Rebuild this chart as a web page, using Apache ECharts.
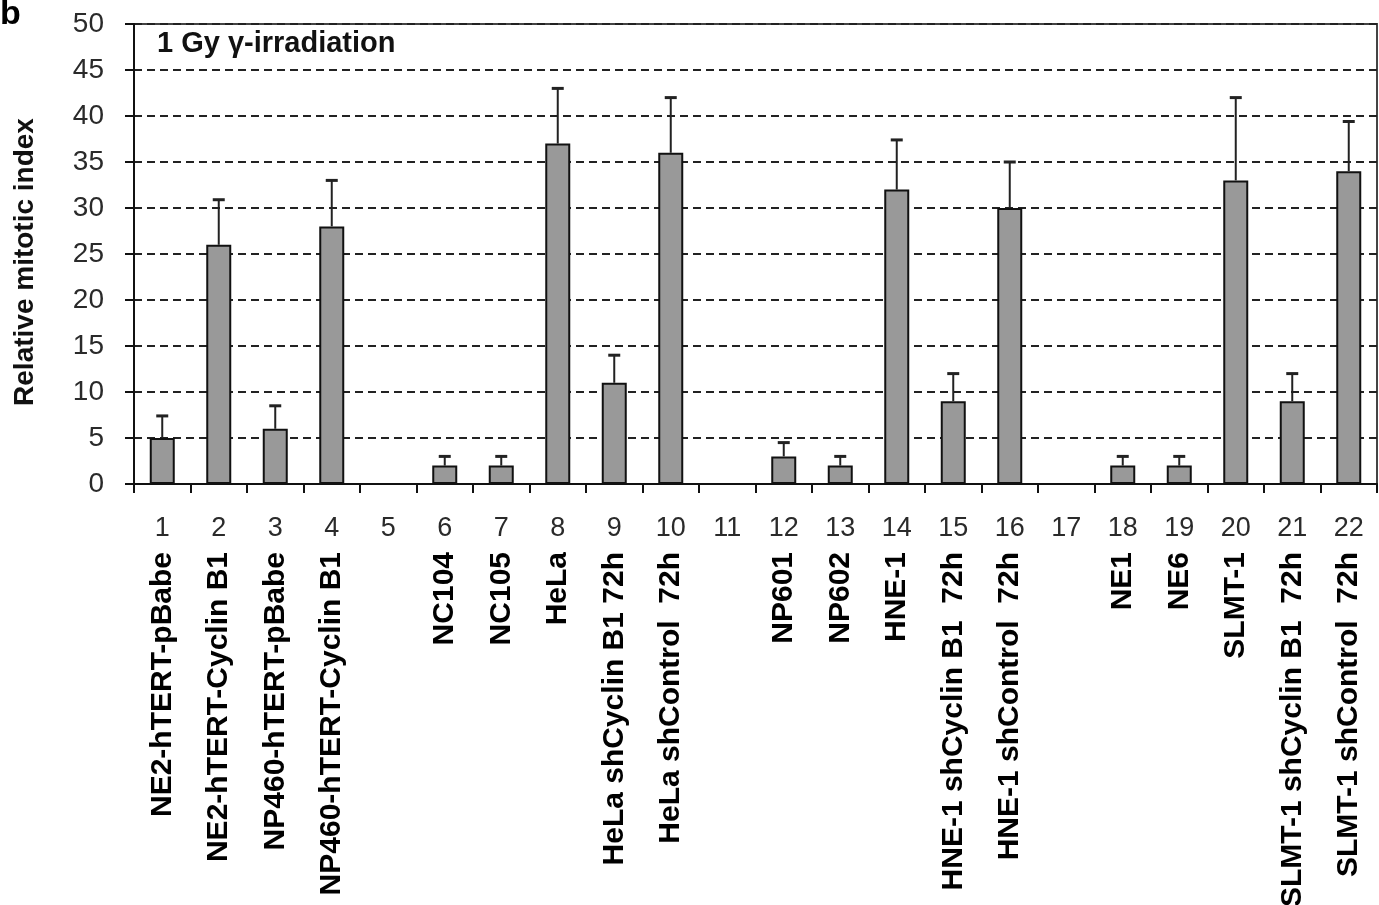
<!DOCTYPE html>
<html>
<head>
<meta charset="utf-8">
<script src="https://cdn.jsdelivr.net/npm/echarts@6/dist/echarts.min.js"></script>
<style>
html,body{margin:0;padding:0;background:#fff;}
#chart{width:1379px;height:905px;}
</style>
</head>
<body>
<div id="chart"></div>
<script>
const categoryNumbers = ['1','2','3','4','5','6','7','8','9','10','11','12','13','14','15','16','17','18','19','20','21','22'];
const cellLines = ['NE2-hTERT-pBabe','NE2-hTERT-Cyclin B1','NP460-hTERT-pBabe','NP460-hTERT-Cyclin B1','',
  'NC104','NC105','HeLa','HeLa shCyclin B1 72h','HeLa shControl  72h','',
  'NP601','NP602','HNE-1','HNE-1 shCyclin B1  72h','HNE-1 shControl  72h','',
  'NE1','NE6','SLMT-1','SLMT-1 shCyclin B1  72h','SLMT-1 shControl  72h'];
const meanValues = [5, 26, 6, 28, null, 2, 2, 37, 11, 36, null, 3, 2, 32, 9, 30, null, 2, 2, 33, 9, 34];
const errValues  = [2.4, 4.9, 2.5, 5, null, 1, 1, 6, 3, 6, null, 1.5, 1, 5.4, 3, 5, null, 1, 1, 9, 3, 5.4];
const yMin = 0, yMax = 50, yStep = 5;
const titleText = '1 Gy \u03b3-irradiation';
const yTitle = 'Relative mitotic index';
const panelLetter = 'b';

const FONT = '"Liberation Sans", Arial, sans-serif';
const chart = echarts.init(document.getElementById('chart'), null, {renderer: 'canvas'});

const errData = meanValues.map((v, i) => (v == null ? [i, null, null] : [i, v, v + errValues[i]]));

chart.setOption({
  animation: false,
  backgroundColor: '#fff',
  grid: {left: 134, right: 2, top: 24, bottom: 421, show: true, borderColor: '#444', borderWidth: 2,
         backgroundColor: 'transparent', containLabel: false, outerBoundsMode: 'none'},
  xAxis: [
    {
      type: 'category', data: categoryNumbers, position: 'bottom', boundaryGap: true,
      axisLine: {lineStyle: {color: '#111', width: 2}},
      axisTick: {show: true, length: 9, lineStyle: {color: '#111', width: 2}},
      axisLabel: {color: '#2a2a2a', fontFamily: FONT, fontSize: 27, margin: 31, interval: 0}
    },
    {
      type: 'category', data: cellLines, position: 'bottom', boundaryGap: true,
      axisLine: {show: false}, axisTick: {show: false},
      axisLabel: {color: '#000', fontFamily: FONT, fontSize: 30, fontWeight: 'bold', rotate: 90, margin: 68, interval: 0}
    }
  ],
  yAxis: {
    type: 'value', min: yMin, max: yMax, interval: yStep,
    axisLine: {show: true, lineStyle: {color: '#111', width: 2}},
    axisTick: {show: true, length: 9, lineStyle: {color: '#111', width: 2}},
    axisLabel: {color: '#2a2a2a', fontFamily: FONT, fontSize: 28, margin: 30},
    splitLine: {show: true, lineStyle: {color: '#222', width: 2, type: [8, 5]}}
  },
  series: [
    {
      type: 'bar', xAxisIndex: 0, data: meanValues, barWidth: 25,
      itemStyle: {color: '#999999', borderColor: '#111', borderWidth: 2}
    },
    {
      type: 'custom', xAxisIndex: 0, data: errData, z: 3,
      renderItem: function (params, api) {
        const lo = api.value(1), hi = api.value(2);
        if (lo == null || isNaN(lo)) return null;
        const p0 = api.coord([api.value(0), lo]);
        const p1 = api.coord([api.value(0), hi]);
        const cap = 6;
        return {
          type: 'group',
          children: [
            {type: 'line', shape: {x1: p0[0], y1: p0[1], x2: p1[0], y2: p1[1]}, style: {stroke: '#222', lineWidth: 2}},
            {type: 'line', shape: {x1: p1[0] - cap, y1: p1[1], x2: p1[0] + cap, y2: p1[1]}, style: {stroke: '#222', lineWidth: 3}}
          ]
        };
      },
      encode: {x: 0, y: [1, 2]}
    }
  ],
  graphic: [
    {type: 'text', left: 0, top: -2, style: {text: panelLetter, font: 'bold 34px ' + FONT, fill: '#000'}},
    {type: 'text', x: 157, y: 44, style: {text: titleText, font: 'bold 29px ' + FONT, fill: '#111', textVerticalAlign: 'middle'}},
    {type: 'text', x: 25, y: 262, rotation: Math.PI / 2, style: {text: yTitle, font: 'bold 28px ' + FONT, fill: '#111', textAlign: 'center', textVerticalAlign: 'middle'}}
  ]
});
</script>
</body>
</html>
